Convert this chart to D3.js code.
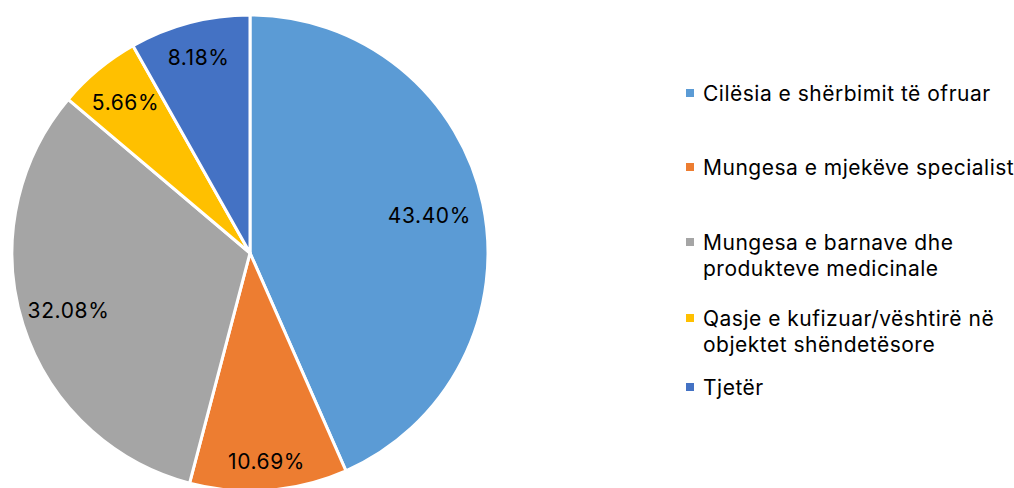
<!DOCTYPE html>
<html>
<head>
<meta charset="utf-8">
<script src="https://cdn.jsdelivr.net/npm/d3@7"></script>
<style>
  html, body { margin: 0; padding: 0; background: #fff; }
  svg { display: block; font-family: "Inter", "Roboto", sans-serif; }
</style>
</head>
<body>
<svg id="chart" width="1014" height="488"></svg>
<script>
(function () {
  "use strict";

  // categories in pie order (clockwise from 12 o'clock)
  const categories = [
    "Cilësia e shërbimit të ofruar",
    "Mungesa e mjekëve specialist",
    "Mungesa e barnave dhe produkteve medicinale",
    "Qasje e kufizuar/vështirë në objektet shëndetësore",
    "Tjetër"
  ];
  const values = [43.40, 10.69, 32.08, 5.66, 8.18];
  const legendLines = [
    ["Cilësia e shërbimit të ofruar"],
    ["Mungesa e mjekëve specialist"],
    ["Mungesa e barnave dhe", "produkteve medicinale"],
    ["Qasje e kufizuar/vështirë në", "objektet shëndetësore"],
    ["Tjetër"]
  ];
  const colors = ["#5b9bd5", "#ed7d31", "#a5a5a5", "#ffc000", "#4472c4"];

  // label distance from centre, as a fraction of the radius (best-fit like placement)
  const labelRadius = [0.77, 0.88, 0.80, 0.82, 0.85];

  const svg = d3.select("#chart");
  const cx = 250, cy = 253, r = 238;

  const data = categories.map((c, i) => ({ name: c, value: values[i], i }));

  const pie = d3.pie().sort(null).value((d) => d.value);
  const arcs = pie(data);
  const arc = d3.arc().innerRadius(0).outerRadius(r);

  const g = svg.append("g").attr("transform", `translate(${cx},${cy})`);

  g.selectAll("path")
    .data(arcs)
    .join("path")
    .attr("d", arc)
    .attr("fill", (d) => colors[d.data.i])
    .attr("stroke", "#fff")
    .attr("stroke-width", 3)
    .attr("stroke-linejoin", "round");

  g.selectAll("text.val")
    .data(arcs)
    .join("text")
    .attr("class", "val")
    .attr("transform", (d) => {
      const a = (d.startAngle + d.endAngle) / 2;
      const k = labelRadius[d.data.i] * r;
      return `translate(${Math.sin(a) * k},${-Math.cos(a) * k})`;
    })
    .attr("text-anchor", "middle")
    .attr("dy", "0.36em")
    .attr("font-size", 21)
    .attr("letter-spacing", 0.6)
    .attr("fill", "#000")
    .text((d) => d.data.value.toFixed(2) + "%");

  // legend
  const legendX = 686, textX = 703, lineH = 26;
  const rowY = [93, 167, 242, 318, 387];

  const items = svg.append("g").attr("class", "legend")
    .selectAll("g")
    .data(legendLines)
    .join("g")
    .attr("transform", (d, i) => `translate(0,${rowY[i]})`);

  items.append("rect")
    .attr("x", legendX)
    .attr("y", -4)
    .attr("width", 8)
    .attr("height", 8)
    .attr("fill", (d, i) => colors[i]);

  items.append("text")
    .attr("font-size", 21)
    .attr("letter-spacing", 0.5)
    .attr("fill", "#000")
    .selectAll("tspan")
    .data((d) => d)
    .join("tspan")
    .attr("x", textX)
    .attr("y", (d, j) => j * lineH + 7.5)
    .text((d) => d);
})();
</script>
</body>
</html>
